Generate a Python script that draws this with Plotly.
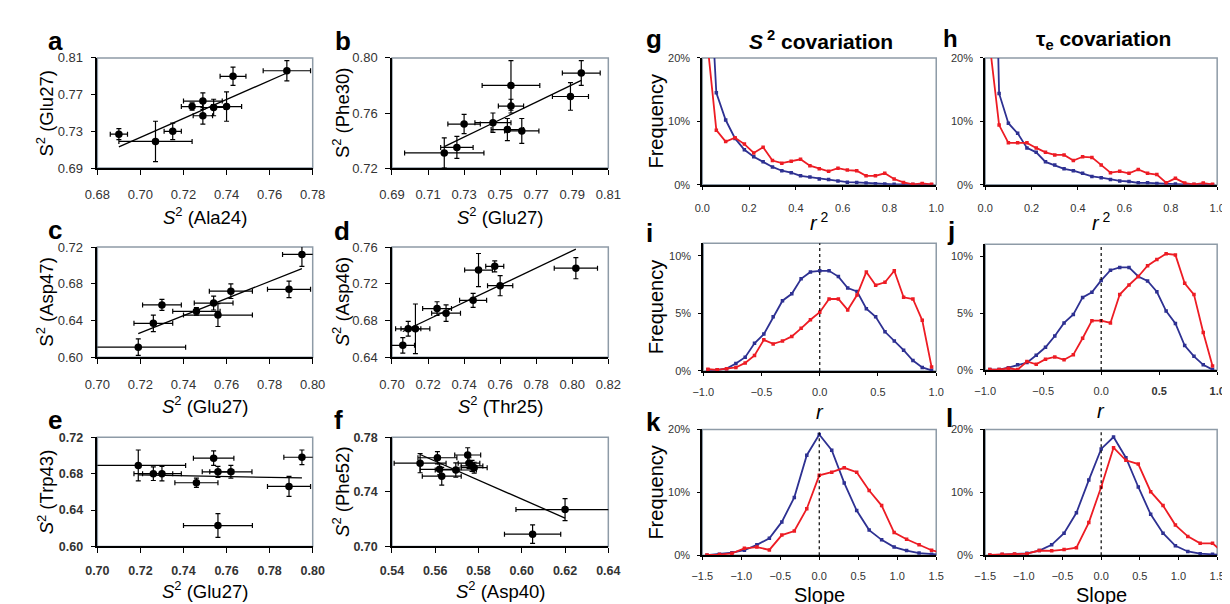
import plotly.graph_objects as go

W, H = 1230, 604
FONT = "Liberation Sans, Arial, sans-serif"
BLUE = "#2e3192"
RED = "#ed1c24"
GREY = "#8e9ba7"
TICKC = "#333333"

# ---- panels a-f: S2 correlations (x, y, x error, y error, fit slope/intercept)
a_x = [0.690, 0.707, 0.715, 0.724, 0.729, 0.729, 0.734, 0.740, 0.743, 0.768]
a_y = [0.727, 0.719, 0.730, 0.757, 0.763, 0.747, 0.756, 0.757, 0.790, 0.796]
a_xerr = [0.004, 0.017, 0.004, 0.005, 0.009, 0.0045, 0.005, 0.007, 0.006, 0.011]
a_yerr = [0.006, 0.022, 0.009, 0.004, 0.009, 0.009, 0.009, 0.016, 0.010, 0.011]
a_fit = [1.03, 0.0025]

b_x = [0.719, 0.726, 0.730, 0.746, 0.754, 0.762, 0.756, 0.756, 0.789, 0.795]
b_y = [0.731, 0.735, 0.752, 0.753, 0.748, 0.747, 0.780, 0.765, 0.772, 0.789]
b_xerr = [0.022, 0.009, 0.009, 0.010, 0.009, 0.0095, 0.016, 0.007, 0.010, 0.0105]
b_yerr = [0.011, 0.008, 0.007, 0.007, 0.008, 0.009, 0.018, 0.005, 0.010, 0.009]
b_fit = [0.632, 0.2812]

c_x = [0.719, 0.726, 0.730, 0.746, 0.754, 0.756, 0.762, 0.789, 0.795]
c_y = [0.611, 0.637, 0.657, 0.650, 0.659, 0.646, 0.672, 0.674, 0.712]
c_xerr = [0.022, 0.009, 0.009, 0.011, 0.009, 0.016, 0.010, 0.010, 0.009]
c_yerr = [0.009, 0.009, 0.006, 0.004, 0.0075, 0.0125, 0.008, 0.009, 0.013]
c_fit = [0.933, -0.0451]

d_x = [0.706, 0.709, 0.713, 0.725, 0.730, 0.745, 0.748, 0.757, 0.760, 0.802]
d_y = [0.653, 0.671, 0.671, 0.693, 0.688, 0.702, 0.735, 0.739, 0.718, 0.737]
d_xerr = [0.0065, 0.007, 0.008, 0.008, 0.008, 0.0075, 0.0077, 0.005, 0.007, 0.012]
d_yerr = [0.0085, 0.008, 0.027, 0.0075, 0.009, 0.0076, 0.018, 0.006, 0.011, 0.0115]
d_fit = [0.934, 0.0087]

e_x = [0.719, 0.726, 0.730, 0.746, 0.754, 0.756, 0.762, 0.756, 0.789, 0.795]
e_y = [0.689, 0.680, 0.680, 0.670, 0.697, 0.682, 0.682, 0.623, 0.666, 0.698]
e_xerr = [0.022, 0.009, 0.009, 0.010, 0.0094, 0.0073, 0.0098, 0.016, 0.010, 0.0084]
e_yerr = [0.017, 0.0075, 0.008, 0.005, 0.008, 0.006, 0.007, 0.013, 0.011, 0.008]
e_fit = [-0.043, 0.7095]

f_x = [0.553, 0.561, 0.562, 0.563, 0.5695, 0.575, 0.5756, 0.577, 0.578, 0.605, 0.620]
f_y = [0.761, 0.765, 0.7565, 0.7515, 0.756, 0.767, 0.761, 0.759, 0.7577, 0.709, 0.727]
f_xerr = [0.012, 0.009, 0.009, 0.009, 0.0095, 0.006, 0.005, 0.005, 0.006, 0.013, 0.0227]
f_yerr = [0.007, 0.0045, 0.004, 0.0065, 0.0053, 0.0053, 0.004, 0.004, 0.004, 0.0068, 0.008]
f_fit = [-0.695, 1.1517]

# ---- panels g-l: frequency distributions (%)
r2_bins = [0.02, 0.06, 0.10, 0.14, 0.18, 0.22, 0.26, 0.30, 0.34, 0.38, 0.42, 0.46, 0.50,
           0.54, 0.58, 0.62, 0.66, 0.70, 0.74, 0.78, 0.82, 0.86, 0.90, 0.94, 0.98]
g_blue = [42, 14.5, 10.2, 7.3, 5.5, 4.4, 3.6, 2.8, 2.2, 1.9, 1.4, 1.2, 0.9, 0.8, 0.6, 0.4,
          0.35, 0.25, 0.15, 0.1, 0.05, 0.03, 0.02, 0.01, 0]
g_red = [23, 8.6, 6.8, 7.4, 6.4, 5.0, 5.9, 3.8, 3.4, 3.7, 4.0, 3.0, 2.5, 2.1, 2.6, 2.3,
         2.2, 1.4, 1.4, 1.8, 0.9, 0.35, 0.05, 0.2, 0.05]
h_blue = [80, 14.4, 9.7, 8.1, 5.8, 5.1, 3.6, 3.1, 2.5, 2.2, 1.8, 1.3, 1.1, 0.8, 0.6, 0.5,
          0.3, 0.3, 0.2, 0.15, 0.1, 0.05, 0.02, 0.01, 0]
h_red = [22, 9.4, 6.6, 6.6, 6.6, 5.8, 5.1, 4.7, 4.7, 3.8, 4.4, 4.3, 3.1, 1.9, 2.1, 1.8,
         2.4, 1.8, 1.6, 0.3, 1.0, 0.25, 0.05, 0.25, 0.05]

r_bins = [-0.96, -0.88, -0.80, -0.72, -0.64, -0.56, -0.48, -0.40, -0.32, -0.24, -0.16, -0.08, 0.0,
          0.08, 0.16, 0.24, 0.32, 0.40, 0.48, 0.56, 0.64, 0.72, 0.80, 0.88, 0.96]
i_blue = [0.1, 0.1, 0.2, 0.65, 1.2, 2.4, 3.2, 4.7, 6.1, 6.7, 8.0, 8.6, 8.7, 8.7, 8.2, 7.2,
          6.9, 5.4, 4.7, 3.4, 2.6, 1.8, 0.9, 0.3, 0.05]
i_red = [0.15, 0.1, 0.2, 0.3, 0.7, 1.35, 2.7, 2.35, 2.6, 3.0, 3.7, 4.45, 5.1, 6.25, 6.25, 5.3,
         6.6, 8.6, 7.45, 7.7, 8.7, 6.4, 6.25, 4.4, 0.35]
j_blue = [0.03, 0.03, 0.2, 0.45, 0.65, 1.3, 2.0, 3.0, 4.15, 4.9, 6.4, 6.85, 7.9, 8.8, 9.05, 9.05,
          8.25, 7.85, 6.9, 5.2, 4.1, 2.15, 1.2, 0.45, 0.03]
j_red = [0.03, 0.03, 0.15, 0.03, 0.75, 0.5, 0.95, 1.15, 0.9, 1.35, 2.8, 4.35, 4.35, 4.15, 6.65,
         7.5, 8.25, 9.2, 9.75, 10.25, 10.15, 7.65, 6.65, 3.3, 0.35]

slope_bins = [-1.44, -1.28, -1.12, -0.96, -0.80, -0.64, -0.48, -0.32, -0.16, 0.0,
              0.16, 0.32, 0.48, 0.64, 0.80, 0.96, 1.12, 1.28, 1.44, 1.60]
k_blue = [0.0, 0.15, 0.4, 0.8, 1.65, 2.7, 5.3, 9.2, 15.9, 19.2, 16.7, 11.5, 7.1, 4.0, 2.45,
          1.3, 0.75, 0.35, 0.15, 0.05]
k_red = [0.05, 0.1, 0.3, 1.1, 1.3, 0.85, 3.2, 3.85, 7.4, 12.7, 13.2, 13.9, 13.2, 10.3, 7.9,
         3.6, 2.55, 1.65, 0.8, 0.3]
l_blue = [0.0, 0.1, 0.15, 0.3, 0.75, 1.65, 3.5, 6.75, 11.95, 16.9, 18.8, 15.5, 10.85, 6.5, 3.5,
          1.5, 0.6, 0.25, 0.15, 0.05]
l_red = [0.05, 0.15, 0.2, 0.25, 0.75, 0.7, 0.9, 1.2, 5.2, 10.85, 17.1, 15.1, 14.5, 10.1, 7.9,
         4.8, 3.0, 1.9, 1.9, 0.2]

fig = go.Figure()
layout = {}
shapes = []
ann = []


def sid(n):
    return "" if n == 1 else str(n)


def add_axes(n, box, xr, yr, xticks, yticks, xfmt, yfmt, bold=False, lw=1.5, tsize=13,
             xlen=5, ylen=5, xstand=10, ystand=5, xtext=None, ytext=None):
    left, right, top, bottom = box
    tf = dict(family=FONT, size=tsize, color=TICKC, weight=700 if bold else 400)
    common = dict(ticks="outside", tickwidth=1, tickcolor="black", showline=True,
                  linecolor="black", linewidth=lw, showgrid=False, zeroline=False,
                  tickfont=tf, fixedrange=True)
    xa = dict(domain=[left / W, right / W], range=xr, anchor="y" + sid(n), tickvals=xticks,
              tickformat=xfmt, ticklen=xlen, ticklabelstandoff=xstand, **common)
    if xtext is not None:
        xa["ticktext"] = xtext
    ya = dict(domain=[1 - bottom / H, 1 - top / H], range=yr, anchor="x" + sid(n),
              tickvals=yticks, tickformat=yfmt, ticklen=ylen, ticklabelstandoff=ystand, **common)
    if ytext is not None:
        ya["ticktext"] = ytext
    layout["xaxis" + sid(n)] = xa
    layout["yaxis" + sid(n)] = ya
    shapes.append(dict(type="rect", xref="x" + sid(n) + " domain", yref="y" + sid(n) + " domain",
                       x0=0, x1=1, y0=0, y1=1, line=dict(color=GREY, width=1.5), layer="below"))


def text(x, y, s, size, bold=False, angle=0, xanchor="center", yanchor="middle"):
    ann.append(dict(x=x / W, y=1 - y / H, xref="paper", yref="paper", text=s, showarrow=False,
                    font=dict(family=FONT, size=size, color="black", weight=700 if bold else 400),
                    textangle=angle, xanchor=xanchor, yanchor=yanchor))


def S(name, italic=True):
    s = "<i>S</i>" if italic else "S"
    return s + "<sup>2</sup> (" + name + ")"


# scatter panels
scatter_panels = [
    (1, a_x, a_y, a_xerr, a_yerr, a_fit, (78, 298, 44, 157), [0.68, 0.78], [0.69, 0.81],
     [0.68, 0.70, 0.72, 0.74, 0.76, 0.78], [0.69, 0.73, 0.77, 0.81], "Ala24", "Glu27", False, False),
    (2, b_x, b_y, b_xerr, b_yerr, b_fit, (379, 600, 44, 157), [0.69, 0.81], [0.72, 0.80],
     [0.69, 0.71, 0.73, 0.75, 0.77, 0.79, 0.81], [0.72, 0.76, 0.80], "Glu27", "Phe30", False, False),
    (3, c_x, c_y, c_xerr, c_yerr, c_fit, (78, 298, 238, 351), [0.70, 0.80], [0.60, 0.72],
     [0.70, 0.72, 0.74, 0.76, 0.78, 0.80], [0.60, 0.64, 0.68, 0.72], "Glu27", "Asp47", False, False),
    (4, d_x, d_y, d_xerr, d_yerr, d_fit, (379, 600, 238, 351), [0.70, 0.82], [0.64, 0.76],
     [0.70, 0.72, 0.74, 0.76, 0.78, 0.80, 0.82], [0.64, 0.68, 0.72, 0.76], "Thr25", "Asp46", False, True),
    (5, e_x, e_y, e_xerr, e_yerr, e_fit, (78, 298, 433, 545), [0.70, 0.80], [0.60, 0.72],
     [0.70, 0.72, 0.74, 0.76, 0.78, 0.80], [0.60, 0.64, 0.68, 0.72], "Glu27", "Trp43", True, True),
    (6, f_x, f_y, f_xerr, f_yerr, f_fit, (379, 600, 433, 545), [0.54, 0.64], [0.70, 0.78],
     [0.54, 0.56, 0.58, 0.60, 0.62, 0.64], [0.70, 0.74, 0.78], "Asp40", "Phe52", True, True),
]

for n, xs, ys, xe, ye, fit, box, xr, yr, xt, yt, xname, yname, bold, ital in scatter_panels:
    add_axes(n, box, xr, yr, xt, yt, ".2f", ".2f", bold=bold, tsize=13 if not bold else 12.5,
             xstand=7 if bold else 9)
    fig.add_trace(go.Scatter(
        x=xs, y=ys, mode="markers", marker=dict(color="black", size=7.5),
        error_x=dict(type="data", array=xe, color="black", thickness=1.2, width=2.5),
        error_y=dict(type="data", array=ye, color="black", thickness=1.2, width=2.5),
        xaxis="x" + sid(n), yaxis="y" + sid(n), showlegend=False))
    x0, x1 = min(xs), max(xs)
    fig.add_trace(go.Scatter(
        x=[x0, x1], y=[fit[0] * x0 + fit[1], fit[0] * x1 + fit[1]], mode="lines",
        line=dict(color="black", width=1.3), xaxis="x" + sid(n), yaxis="y" + sid(n),
        showlegend=False))
    left, right, top, bottom = box
    text((left + right) / 2, bottom + (30 if bold else 35), S(xname), 18.5, yanchor="top")
    text(left - 53 if n % 2 else left - 52, (top + bottom) / 2, S(yname, ital), 18.5, angle=-90)

# distribution panels
line_panels = [
    (7, r2_bins, g_blue, g_red, (696, 935, 44, 174), [0, 1], [0, 20], [0, 0.2, 0.4, 0.6, 0.8, 1.0],
     [0, 10, 20], "<i>r</i><sup> 2</sup>", True, False),
    (8, r2_bins, h_blue, h_red, (985, 1222, 44, 174), [0, 1], [0, 20], [0, 0.2, 0.4, 0.6, 0.8, 1.0],
     [0, 10, 20], "<i>r</i><sup> 2</sup>", False, False),
    (9, r_bins, i_blue, i_red, (697, 935, 234, 365), [-1, 1], [0, 11.1], [-1, -0.5, 0, 0.5, 1],
     [0, 5, 10], "<i>r</i>", True, True),
    (10, r_bins, j_blue, j_red, (985, 1222, 235, 364), [-1, 1], [0, 11.1], [-1, -0.5, 0, 0.5, 1],
     [0, 5, 10], "<i>r</i>", False, True),
    (11, slope_bins, k_blue, k_red, (696, 935, 425, 554), [-1.5, 1.5], [0, 20],
     [-1.5, -1.0, -0.5, 0, 0.5, 1.0, 1.5], [0, 10, 20], "Slope", True, True),
    (12, slope_bins, l_blue, l_red, (985, 1222, 425, 554), [-1.5, 1.5], [0, 20],
     [-1.5, -1.0, -0.5, 0, 0.5, 1.0, 1.5], [0, 10, 20], "Slope", False, True),
]

for n, bins, blue, red, box, xr, yr, xt, yt, xtitle, freq, zline in line_panels:
    xtext = None
    if n == 10:
        xtext = ["\u22121.0", "\u22120.5", "0.0", "<b>0.5</b>", "<b>1.0</b>"]
    ytext = [str(v) + "%" for v in yt]
    add_axes(n, box, xr, yr, xt, yt, ".1f", "d", lw=2, tsize=11, xlen=3, ylen=3,
             xstand=9 if n < 9 else 7, ystand=5, xtext=xtext, ytext=ytext)
    for vals, col in ((blue, BLUE), (red, RED)):
        fig.add_trace(go.Scatter(
            x=bins, y=vals, mode="lines+markers", line=dict(color=col, width=1.8),
            marker=dict(color=col, size=3.5, symbol="square"),
            xaxis="x" + sid(n), yaxis="y" + sid(n), showlegend=False))
    if zline:
        shapes.append(dict(type="line", xref="x" + sid(n), yref="y" + sid(n) + " domain",
                           x0=0, x1=0, y0=0, y1=1, line=dict(color="black", width=1.2, dash="dot")))
    left, right, top, bottom = box
    if n > 10:
        text((left + right) / 2, bottom + 27, xtitle, 20, yanchor="top")
    elif n > 8:
        text((left + right) / 2, bottom + 29, xtitle, 20, yanchor="top")
    else:
        text((left + right) / 2, bottom + 38, xtitle, 20)
    if freq:
        text(649, (top + bottom) / 2, "Frequency", 20, angle=-90)

# panel letters
letters = [("a", 26, 27, 26), ("b", 319, 27, 26), ("c", 26, 220, 26), ("d", 318, 222, 26),
           ("e", 26, 415, 26), ("f", 318, 415, 26), ("g", 636, 25, 26), ("h", 940, 24, 24),
           ("i", 636, 224, 26), ("j", 944, 222, 26), ("k", 636, 417, 26), ("l", 943, 413, 26)]
for s, x, y, sz in letters:
    text(x, y, s, sz, bold=True, xanchor="left")

text(817, 26, "<b><i>S</i><sup> 2</sup> covariation</b>", 21)
text(1106, 26, "<b>\u03c4<sub>e</sub> covariation</b>", 21)

fig.update_layout(
    width=W, height=H, margin=dict(l=0, r=0, t=0, b=0),
    paper_bgcolor="white", plot_bgcolor="white",
    font=dict(family=FONT, color="black"),
    shapes=shapes, annotations=ann, **layout)

fig.write_html("out.html")
